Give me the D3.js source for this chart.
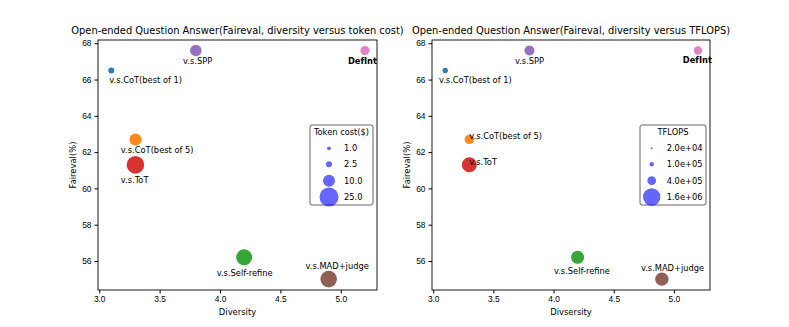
<!DOCTYPE html>
<html>
<head>
<meta charset="utf-8">
<script src="https://cdn.jsdelivr.net/npm/d3@7"></script>
<style>
  body { margin: 0; background: #fff; }
  svg { font-family: "DejaVu Sans", sans-serif; }
  .tick text { font-size: 8.4px; fill: #000; }
  .tick line { stroke: #000; }
  .domain { display: none; }
</style>
</head>
<body>
<div id="chart"></div>
<script>
// data
var methods = ["v.s.CoT(best of 1)", "v.s.SPP", "DefInt", "v.s.CoT(best of 5)", "v.s.ToT", "v.s.Self-refine", "v.s.MAD+judge"];
var diversity = [3.1, 3.8, 5.2, 3.3, 3.3, 4.2, 4.9];
var faireval = [66.5, 67.6, 67.6, 62.7, 61.3, 56.2, 55.0];
var tokenCost = [2.5, 9.3, 5.6, 10, 21.5, 17.7, 19];
var tflops = [154000, 528000, 373000, 467000, 1190000, 893000, 948000];
var tokenLegend = [1.0, 2.5, 10.0, 25.0];
var tflopsLegend = [20000, 100000, 400000, 1600000];
var xTicks = [3.0, 3.5, 4.0, 4.5, 5.0];
var yTicks = [56, 58, 60, 62, 64, 66, 68];

var colors = ["#1f77b4", "#9467bd", "#e377c2", "#ff7f0e", "#d62728", "#2ca02c", "#8c564b"];

var width = 789, height = 327;
var svg = d3.select("#chart").append("svg")
    .attr("width", width)
    .attr("height", height);

// label placement (px offsets from the point), per panel
var leftLabels = [
  {dx: -2, dy: 12.2, anchor: "start"},
  {dx: 1.8, dy: 13.7, anchor: "middle"},
  {dx: -2.5, dy: 13.4, anchor: "middle"},
  {dx: -14.6, dy: 13.6, anchor: "start"},
  {dx: -14.6, dy: 17.9, anchor: "start"},
  {dx: 0.5, dy: 18.3, anchor: "middle"},
  {dx: 8.5, dy: -10, anchor: "middle"}
];
var rightLabels = [
  {dx: -6.3, dy: 12.2, anchor: "start"},
  {dx: 0, dy: 13.4, anchor: "middle"},
  {dx: -0.6, dy: 12.4, anchor: "middle"},
  {dx: 0, dy: 0, anchor: "start"},
  {dx: 0, dy: 0.2, anchor: "start"},
  {dx: 4.3, dy: 16.6, anchor: "middle"},
  {dx: 10.7, dy: -8.4, anchor: "middle"}
];

function panel(opts) {
  var x = d3.scaleLinear().domain([2.99, 5.3]).range([opts.left, opts.right]);
  var y = d3.scaleLinear().domain([54.4, 68.18]).range([290, 40]);
  var r = d3.scaleSqrt().domain([0, opts.sizeMax]).range([0, opts.rMax]);

  var g = svg.append("g");

  g.append("text")
      .text(opts.title)
      .attr("x", (opts.left + opts.right) / 2)
      .attr("y", 34)
      .attr("text-anchor", "middle")
      .style("font-size", "9.9px");

  g.append("g")
      .attr("transform", "translate(0,290)")
      .call(d3.axisBottom(x).tickValues(xTicks).tickFormat(d3.format(".1f")).tickSizeOuter(0).tickSize(3.5));

  g.append("g")
      .attr("transform", "translate(" + opts.left + ",0)")
      .call(d3.axisLeft(y).tickValues(yTicks).tickFormat(d3.format("d")).tickSizeOuter(0).tickSize(3.5));

  g.append("rect")
      .attr("x", opts.left)
      .attr("y", 40)
      .attr("width", opts.right - opts.left)
      .attr("height", 250)
      .attr("fill", "none")
      .attr("stroke", "#000")
      .attr("stroke-width", 0.9);

  g.append("text")
      .text(opts.xLabel)
      .attr("x", (opts.left + opts.right) / 2)
      .attr("y", 315)
      .attr("text-anchor", "middle")
      .style("font-size", "8.4px");

  g.append("text")
      .text("Faireval(%)")
      .attr("transform", "translate(" + (opts.left - 22) + ",165) rotate(-90)")
      .attr("text-anchor", "middle")
      .style("font-size", "8.4px");

  g.selectAll(".pt")
    .data(methods)
    .enter().append("circle")
      .attr("cx", function(d, i) { return x(diversity[i]); })
      .attr("cy", function(d, i) { return y(faireval[i]); })
      .attr("r", function(d, i) { return r(opts.sizes[i]); })
      .attr("fill", function(d, i) { return colors[i]; })
      .attr("opacity", 0.95);

  g.selectAll(".lbl")
    .data(methods)
    .enter().append("text")
      .text(function(d) { return d; })
      .attr("x", function(d, i) { return x(diversity[i]) + opts.labels[i].dx; })
      .attr("y", function(d, i) { return y(faireval[i]) + opts.labels[i].dy; })
      .attr("text-anchor", function(d, i) { return opts.labels[i].anchor; })
      .style("font-weight", function(d) { return d == "DefInt" ? "bold" : "normal"; })
      .style("font-size", "8.3px");

  // size legend
  var lg = g.append("g");
  lg.append("rect")
      .attr("x", opts.legendX)
      .attr("y", 125)
      .attr("width", opts.legendW)
      .attr("height", 80)
      .attr("rx", 2)
      .attr("fill", "#fff")
      .attr("stroke", "#555")
      .attr("stroke-width", 0.9);
  lg.append("text")
      .text(opts.legendTitle)
      .attr("x", opts.legendX + opts.legendW / 2)
      .attr("y", 135)
      .attr("text-anchor", "middle")
      .style("font-size", "8.3px");
  var rows = [148.3, 164.2, 180.7, 197];
  lg.selectAll(".lc")
    .data(opts.legendVals)
    .enter().append("circle")
      .attr("cx", opts.legendX + opts.markerDx)
      .attr("cy", function(d, i) { return rows[i]; })
      .attr("r", function(d) { return r(d); })
      .attr("fill", "blue")
      .attr("opacity", 0.6);
  lg.selectAll(".lt")
    .data(opts.legendVals)
    .enter().append("text")
      .text(function(d) { return opts.legendFmt(d); })
      .attr("x", opts.legendX + opts.textDx)
      .attr("y", function(d, i) { return rows[i] + 3; })
      .style("font-size", "8.3px");
}

panel({
  left: 98, right: 377,
  title: "Open-ended Question Answer(Faireval, diversity versus token cost)",
  xLabel: "Diversity",
  sizes: tokenCost, sizeMax: 25, rMax: 9.5,
  labels: leftLabels,
  legendTitle: "Token cost($)", legendVals: tokenLegend,
  legendFmt: d3.format(".1f"),
  legendX: 310, legendW: 63, markerDx: 19, textDx: 34
});

panel({
  left: 432, right: 710,
  title: "Open-ended Question Answer(Faireval, diversity versus TFLOPS)",
  xLabel: "Divsersity",
  sizes: tflops, sizeMax: 1600000, rMax: 8.7,
  labels: rightLabels,
  legendTitle: "TFLOPS", legendVals: tflopsLegend,
  legendFmt: function(d) { return d.toExponential(1).replace("e+", "e+0"); },
  legendX: 640, legendW: 66, markerDx: 11.7, textDx: 26.7
});
</script>
</body>
</html>
